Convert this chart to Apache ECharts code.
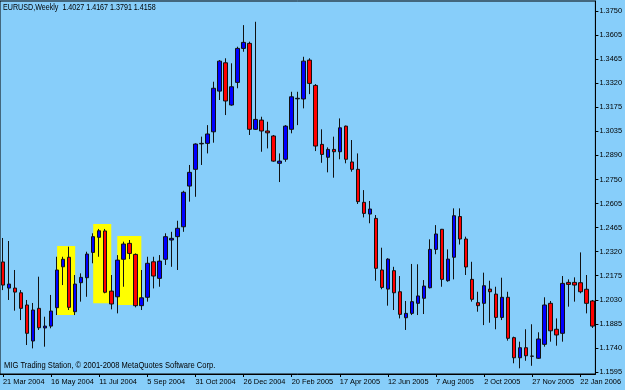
<!DOCTYPE html>
<html>
<head>
<meta charset="utf-8">
<script src="https://cdn.jsdelivr.net/npm/echarts@6/dist/echarts.min.js"></script>
<style>
html,body{margin:0;padding:0;background:#87cefa;}
#chart{width:625px;height:390px;}
</style>
</head>
<body>
<div id="chart"></div>
<script>
const chartTitle = 'EURUSD,Weekly  1.4027 1.4167 1.3791 1.4158';
const footerText = 'MIG Trading Station, \u00a9 2001-2008 MetaQuotes Software Corp.';
const firstWeek = '2004-03-21';
const xTickLabels = ['21 Mar 2004','16 May 2004','11 Jul 2004','5 Sep 2004','31 Oct 2004','26 Dec 2004',
  '20 Feb 2005','17 Apr 2005','12 Jun 2005','7 Aug 2005','2 Oct 2005','27 Nov 2005','22 Jan 2006'];
const yTickLabels = ['1.1595','1.1740','1.1885','1.2030','1.2175','1.2320','1.2465','1.2605',
  '1.2750','1.2890','1.3035','1.3175','1.3320','1.3465','1.3605','1.3750'];

const open = [1.2252,1.2096,1.2096,1.2068,1.1995,1.1780,1.1975,1.1858,1.1869,1.1979,
1.2223,1.2280,1.1955,1.2128,1.2158,1.2309,1.2399,1.2437,1.2078,1.2044,
1.2268,1.2363,1.2297,1.1991,1.2041,1.2253,1.2154,1.2268,1.2383,1.2403,
1.2462,1.2705,1.2805,1.2957,1.2960,1.3029,1.3272,1.3441,1.3189,1.3324,
1.3527,1.3557,1.3044,1.3099,1.3034,1.3004,1.2841,1.2865,1.3044,1.3226,
1.3225,1.3457,1.3306,1.2954,1.2877,1.2924,1.2910,1.3063,1.2849,1.2805,
1.2608,1.2538,1.2512,1.2204,1.2090,1.2200,1.2074,1.1919,1.1945,1.2005,
1.2035,1.2098,1.2327,1.2447,1.2140,1.2280,1.2523,1.2389,1.2148,1.2009,
1.2005,1.2090,1.2060,1.1921,1.2041,1.1800,1.1680,1.1740,1.1689,1.1677,
1.1760,1.2005,1.1850,1.1826,1.2130,1.2130,1.2128,1.2089,1.2019];
const high = [1.2395,1.2377,1.2204,1.2084,1.2025,1.2007,1.2164,1.1925,1.2055,1.2283,
1.2283,1.2343,1.2174,1.2184,1.2313,1.2423,1.2449,1.2449,1.2174,1.2293,
1.2373,1.2383,1.2303,1.2204,1.2283,1.2283,1.2293,1.2423,1.2432,1.2498,
1.2677,1.2831,1.2960,1.3000,1.3069,1.3328,1.3457,1.3468,1.3438,1.3537,
1.3666,1.3567,1.3686,1.3119,1.3089,1.3010,1.2900,1.3069,1.3268,1.3268,
1.3477,1.3468,1.3314,1.3044,1.2936,1.3000,1.3109,1.3066,1.2980,1.2900,
1.2681,1.2616,1.2532,1.2337,1.2274,1.2223,1.2168,1.2019,1.2240,1.2238,
1.2144,1.2387,1.2472,1.2449,1.2327,1.2572,1.2572,1.2403,1.2253,1.2074,
1.2188,1.2140,1.2104,1.2158,1.2074,1.1806,1.1776,1.1850,1.1880,1.1832,
1.2041,1.2019,1.1915,1.2168,1.2148,1.2160,1.2309,1.2174,1.2025];
const low = [1.2084,1.2025,1.1961,1.1905,1.1756,1.1736,1.1846,1.1746,1.1856,1.1935,
1.2114,1.1965,1.1935,1.2015,1.2044,1.2244,1.2283,1.2065,1.1969,1.1945,
1.2104,1.2269,1.1981,1.1965,1.2015,1.2094,1.2104,1.2234,1.2223,1.2204,
1.2432,1.2612,1.2641,1.2831,1.2900,1.2964,1.3219,1.3129,1.3185,1.3289,
1.3507,1.3010,1.3040,1.2910,1.2930,1.2850,1.2729,1.2850,1.3020,1.3069,
1.3169,1.3254,1.2914,1.2844,1.2787,1.2755,1.2865,1.2841,1.2791,1.2598,
1.2518,1.2483,1.2140,1.2089,1.1991,1.1965,1.1915,1.1846,1.1935,1.1935,
1.1941,1.2094,1.2298,1.2104,1.2134,1.2148,1.2356,1.2174,1.2015,1.1955,
1.1875,1.1889,1.1850,1.1905,1.1782,1.1647,1.1617,1.1662,1.1632,1.1673,
1.1746,1.1776,1.1752,1.1776,1.1985,1.2015,1.2065,1.1945,1.1858];
const close = [1.2114,1.2120,1.2072,1.1975,1.1826,1.1965,1.1859,1.1869,1.1959,1.2204,
1.2268,1.1981,1.2120,1.2160,1.2299,1.2403,1.2438,1.2071,1.2001,1.2263,
1.2359,1.2303,1.1991,1.2038,1.2244,1.2168,1.2257,1.2403,1.2393,1.2453,
1.2668,1.2787,1.2956,1.2960,1.3016,1.3289,1.3451,1.3213,1.3298,1.3527,
1.3563,1.3044,1.3103,1.3034,1.3023,1.2854,1.2854,1.3063,1.3238,1.3229,
1.3451,1.3318,1.2944,1.2894,1.2924,1.2910,1.3053,1.2865,1.2805,1.2612,
1.2542,1.2568,1.2214,1.2100,1.2269,1.2068,1.1939,1.1945,1.2015,1.2049,
1.2108,1.2327,1.2419,1.2148,1.2269,1.2528,1.2389,1.2222,1.2029,1.1991,
1.2110,1.2074,1.1921,1.2041,1.1796,1.1680,1.1740,1.1692,1.1690,1.1792,
1.1995,1.1841,1.1816,1.2124,1.2118,1.2114,1.2074,1.2005,1.1869];

// highlighted candle groups (yellow boxes): from/to week index, price top/bottom
const highlightFrom = [9, 15, 19];
const highlightTo = [12, 18, 23];
const highlightTop = [1.2347, 1.2478, 1.2407];
const highlightBottom = [1.1935, 1.2005, 1.1995];

const yBase = 1.1595, yTop = 1.3750;
const yMin = 1.1583, yMax = 1.3810;

const MONTHS = ['Jan','Feb','Mar','Apr','May','Jun','Jul','Aug','Sep','Oct','Nov','Dec'];
const startMs = Date.parse(firstWeek + 'T00:00:00Z');
const categories = open.map((_, i) => {
  const d = new Date(startMs + i * 7 * 86400000);
  return d.getUTCDate() + ' ' + MONTHS[d.getUTCMonth()] + ' ' + d.getUTCFullYear();
});
const yStep = (yTop - yBase) / (yTickLabels.length - 1);
const yTickValues = yTickLabels.map((_, k) => yBase + k * yStep);
const candleData = open.map((o, i) => [o, close[i], low[i], high[i]]);
const areas = highlightFrom.map((f, k) => [
  { xAxis: categories[f], yAxis: highlightTop[k] },
  { xAxis: categories[highlightTo[k]], yAxis: highlightBottom[k] }
]);

const FONT = "'Liberation Sans', Arial, sans-serif";
const AXIS_FS = 7.4;
const chart = echarts.init(document.getElementById('chart'), null, { renderer: 'canvas' });
chart.setOption({
  animation: false,
  backgroundColor: '#87cefa',
  textStyle: { fontFamily: FONT },
  grid: { left: 0, right: 28, top: 1, bottom: 16, show: true, borderColor: '#000', borderWidth: 1, backgroundColor: 'transparent' },
  graphic: [
    { type: 'text', x: 3, y: 3, scaleX: 0.84, style: { text: chartTitle, fontFamily: FONT, fontSize: 8.5, fill: '#000' }, z: 100 },
    { type: 'text', x: 4, y: 361, scaleX: 0.89, style: { text: footerText, fontFamily: FONT, fontSize: 8.5, fill: '#000' }, z: 100 }
  ],
  xAxis: {
    type: 'category',
    data: categories,
    boundaryGap: true,
    axisLine: { show: true, lineStyle: { color: '#000', width: 1 } },
    axisTick: { show: true, interval: 7, alignWithLabel: true, length: 3, lineStyle: { color: '#000' } },
    axisLabel: {
      interval: 7, align: 'left', margin: 4, fontSize: AXIS_FS, color: '#000', fontFamily: FONT,
      formatter: (v, i) => xTickLabels[Math.round(i / 8)] || ''
    },
    splitLine: { show: false }
  },
  yAxis: {
    type: 'value',
    position: 'right',
    min: yMin, max: yMax,
    scale: true,
    axisLine: { show: true, lineStyle: { color: '#000', width: 1 } },
    axisTick: { show: true, length: 3, customValues: yTickValues, lineStyle: { color: '#000' } },
    axisLabel: {
      customValues: yTickValues, margin: 4, fontSize: AXIS_FS, color: '#000', fontFamily: FONT,
      formatter: (v) => yTickLabels[Math.round((v - yBase) / yStep)]
    },
    splitLine: { show: false }
  },
  series: [
    {
      type: 'line', data: [], z: 1, silent: true,
      markArea: { silent: true, itemStyle: { color: '#ffff00', opacity: 1 }, data: areas }
    },
    {
      type: 'candlestick', z: 3,
      data: candleData,
      barWidth: 4,
      itemStyle: { color: '#0000ff', color0: '#ff0000', borderColor: '#111', borderColor0: '#111', borderWidth: 1 }
    }
  ]
});
</script>
</body>
</html>
